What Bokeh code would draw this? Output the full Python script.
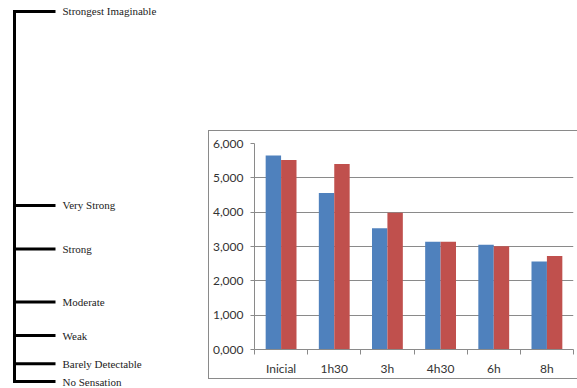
from bokeh.plotting import figure
from bokeh.models import Range1d, FixedTicker, Spacer, ColumnDataSource
from bokeh.layouts import row, column
from bokeh.transform import dodge
from bokeh.core.properties import value
from bokeh.embed import file_html
from bokeh.resources import INLINE

# ---- data ----
scale_labels = ["No Sensation", "Barely Detectable", "Weak", "Moderate",
                "Strong", "Very Strong", "Strongest Imaginable"]
scale_values = [0, 4.8, 12.4, 21.5, 35.8, 47.6, 100]

categories = ["Inicial", "1h30", "3h", "4h30", "6h", "8h"]
series_blue = [5.65, 4.56, 3.53, 3.14, 3.05, 2.56]
series_red = [5.52, 5.40, 3.98, 3.14, 3.01, 2.72]

y_ticks = [0, 1, 2, 3, 4, 5, 6]
y_tick_labels = ["0,000", "1,000", "2,000", "3,000", "4,000", "5,000", "6,000"]

# ---- left: labelled magnitude scale ----
left = figure(width=208, height=388, x_range=Range1d(0, 208),
              y_range=Range1d(-1.89, 102.97),
              x_axis_location=None, y_axis_location=None,
              output_backend="svg", toolbar_location=None,
              min_border=0, outline_line_color=None)
left.grid.visible = False
left.segment(x0=14, y0=min(scale_values), x1=14, y1=max(scale_values),
             line_width=3, line_color="black", line_cap="square")
n = len(scale_values)
left.segment(x0=[14] * n, y0=scale_values, x1=[55] * n, y1=scale_values,
             line_width=3, line_color="black")
left.text(x=[62] * n, y=scale_values, text=scale_labels,
          text_font=value("Liberation Serif"), text_font_size="11px",
          text_baseline="middle", text_color="#222222")

# ---- right: bar chart ----
ncat = len(categories)
centers = [i + 0.5 for i in range(ncat)]
src = ColumnDataSource(dict(pos=centers, cat=categories,
                            blue=series_blue, red=series_red))
p = figure(width=369, height=249,
           x_range=Range1d(0, ncat),
           y_range=Range1d(0, 6),
           min_border_left=42, min_border_right=5, min_border_top=12,
           min_border_bottom=31,
           output_backend="svg", toolbar_location=None,
           outline_line_color=None)
p.styles = {"border-top": "1px solid #8a8a8a",
            "border-left": "1px solid #8a8a8a",
            "border-bottom": "1px solid #8a8a8a"}

p.vbar(x=dodge("pos", -0.145), top="blue", width=0.29,
       source=src, fill_color="#4F81BD", line_color=None)
p.vbar(x=dodge("pos", 0.145), top="red", width=0.29,
       source=src, fill_color="#C0504D", line_color=None)

xaxis = p.xaxis[0]
xaxis.ticker = FixedTicker(ticks=centers, minor_ticks=list(range(ncat + 1)))
xaxis.major_label_overrides = {c: lab for c, lab in zip(centers, categories)}
xaxis.major_tick_out = 0
xaxis.major_tick_in = 0
xaxis.major_tick_line_color = None
xaxis.minor_tick_out = 5
xaxis.minor_tick_in = 0
xaxis.minor_tick_line_color = "#8a8a8a"
xaxis.axis_line_color = "#8a8a8a"
xaxis.major_label_standoff = 6
xaxis.major_label_text_font = "Lato"
xaxis.major_label_text_font_size = "12px"
xaxis.major_label_text_color = "#333333"

yaxis = p.yaxis[0]
yaxis.ticker = FixedTicker(ticks=y_ticks)
yaxis.major_label_overrides = dict(zip(y_ticks, y_tick_labels))
yaxis.minor_tick_line_color = None
yaxis.major_tick_out = 4
yaxis.major_tick_in = 0
yaxis.major_tick_line_color = "#8a8a8a"
yaxis.axis_line_color = "#8a8a8a"
yaxis.major_label_standoff = 7
yaxis.major_label_text_font = "Lato"
yaxis.major_label_text_font_size = "12px"
yaxis.major_label_text_color = "#333333"

p.xgrid.visible = False
p.ygrid.ticker = FixedTicker(ticks=y_ticks)
p.ygrid.grid_line_color = "#8a8a8a"

layout = row(left, column(Spacer(width=369, height=130), p))

open("out.html", "w").write(file_html(layout, INLINE))
